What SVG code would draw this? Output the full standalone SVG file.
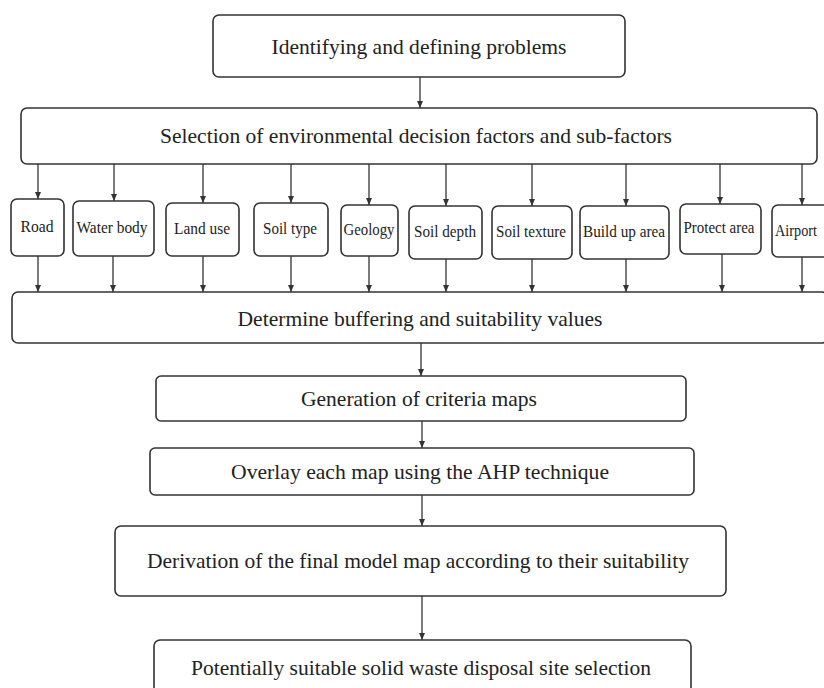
<svg xmlns="http://www.w3.org/2000/svg" width="824" height="688" viewBox="0 0 824 688">
<style>
.box{fill:#fff;stroke:#333;stroke-width:1.6}
.t{font-family:"Liberation Serif","Times New Roman",serif;font-size:21px;fill:#222;text-anchor:middle}
.s{font-family:"Liberation Serif","Times New Roman",serif;font-size:17px;fill:#222;text-anchor:middle}
.c{stroke:#333;stroke-width:1.3;fill:none;marker-end:url(#ah)}
</style>
<defs>
<marker id="ah" markerUnits="userSpaceOnUse" markerWidth="7" markerHeight="7" refX="7" refY="3.5" orient="auto">
<path d="M0,0.5 L7,3.5 L0,6.5 z" fill="#333"/>
</marker>
</defs>
<rect width="824" height="688" fill="#fff"/>
<g id="connectors">
<line class="c" x1="420" y1="77" x2="420" y2="108"/>
<line class="c" x1="38" y1="164" x2="38" y2="199"/>
<line class="c" x1="114" y1="164" x2="114" y2="201"/>
<line class="c" x1="203" y1="164" x2="203" y2="203"/>
<line class="c" x1="291" y1="164" x2="291" y2="203"/>
<line class="c" x1="369" y1="164" x2="369" y2="205"/>
<line class="c" x1="446" y1="164" x2="446" y2="206"/>
<line class="c" x1="532" y1="164" x2="532" y2="206"/>
<line class="c" x1="626" y1="164" x2="626" y2="206"/>
<line class="c" x1="720" y1="164" x2="720" y2="204"/>
<line class="c" x1="802" y1="164" x2="802" y2="205"/>
<line class="c" x1="38" y1="256" x2="38" y2="292"/>
<line class="c" x1="113" y1="256" x2="113" y2="292"/>
<line class="c" x1="203" y1="256" x2="203" y2="292"/>
<line class="c" x1="291" y1="256" x2="291" y2="292"/>
<line class="c" x1="369" y1="256" x2="369" y2="292"/>
<line class="c" x1="446" y1="259" x2="446" y2="292"/>
<line class="c" x1="532" y1="259" x2="532" y2="292"/>
<line class="c" x1="626" y1="259" x2="626" y2="292"/>
<line class="c" x1="722" y1="254" x2="722" y2="292"/>
<line class="c" x1="802" y1="257" x2="802" y2="292"/>
<line class="c" x1="421" y1="343" x2="421" y2="376"/>
<line class="c" x1="422" y1="421" x2="422" y2="448"/>
<line class="c" x1="422" y1="495" x2="422" y2="526"/>
<line class="c" x1="422" y1="596" x2="422" y2="640"/>
</g>
<g id="n_identify"><rect class="box" x="213" y="15" width="412" height="62" rx="6"/><text class="t" x="419" y="54" textLength="295" lengthAdjust="spacingAndGlyphs">Identifying and defining problems</text></g>
<g id="n_selection"><rect class="box" x="21" y="108" width="796" height="56" rx="6"/><text class="t" x="416" y="143" textLength="512" lengthAdjust="spacingAndGlyphs">Selection of environmental decision factors and sub-factors</text></g>
<g id="n_road"><rect class="box" x="11" y="199" width="53" height="57" rx="6"/><text class="s" x="37" y="232" textLength="33" lengthAdjust="spacingAndGlyphs">Road</text></g>
<g id="n_water"><rect class="box" x="73" y="201" width="81" height="55" rx="6"/><text class="s" x="112" y="233" textLength="71" lengthAdjust="spacingAndGlyphs">Water body</text></g>
<g id="n_landuse"><rect class="box" x="166" y="203" width="73" height="53" rx="6"/><text class="s" x="202" y="234" textLength="56" lengthAdjust="spacingAndGlyphs">Land use</text></g>
<g id="n_soiltype"><rect class="box" x="254" y="203" width="74" height="53" rx="6"/><text class="s" x="290" y="234" textLength="54" lengthAdjust="spacingAndGlyphs">Soil type</text></g>
<g id="n_geology"><rect class="box" x="341" y="205" width="57" height="51" rx="6"/><text class="s" x="369" y="235" textLength="51" lengthAdjust="spacingAndGlyphs">Geology</text></g>
<g id="n_soildepth"><rect class="box" x="409" y="206" width="73" height="53" rx="6"/><text class="s" x="445" y="237" textLength="62" lengthAdjust="spacingAndGlyphs">Soil depth</text></g>
<g id="n_soiltexture"><rect class="box" x="492" y="206" width="80" height="53" rx="6"/><text class="s" x="531" y="237" textLength="70" lengthAdjust="spacingAndGlyphs">Soil texture</text></g>
<g id="n_buildup"><rect class="box" x="580" y="206" width="89" height="53" rx="6"/><text class="s" x="624" y="237" textLength="82" lengthAdjust="spacingAndGlyphs">Build up area</text></g>
<g id="n_protect"><rect class="box" x="680" y="204" width="81" height="50" rx="6"/><text class="s" x="719" y="233" textLength="71" lengthAdjust="spacingAndGlyphs">Protect area</text></g>
<g id="n_airport"><rect class="box" x="772" y="205" width="60" height="52" rx="6"/><text class="s" x="775" y="236" style="text-anchor:start" textLength="42" lengthAdjust="spacingAndGlyphs">Airport</text></g>
<g id="n_determine"><rect class="box" x="12" y="292" width="816" height="51" rx="6"/><text class="t" x="420" y="326" textLength="365" lengthAdjust="spacingAndGlyphs">Determine buffering and suitability values</text></g>
<g id="n_generation"><rect class="box" x="156" y="376" width="530" height="45" rx="5"/><text class="t" x="419" y="406" textLength="236" lengthAdjust="spacingAndGlyphs">Generation of criteria maps</text></g>
<g id="n_overlay"><rect class="box" x="150" y="448" width="544" height="47" rx="5"/><text class="t" x="420" y="479" textLength="378" lengthAdjust="spacingAndGlyphs">Overlay each map using the AHP technique</text></g>
<g id="n_derivation"><rect class="box" x="115" y="526" width="611" height="70" rx="6"/><text class="t" x="418" y="568" textLength="542" lengthAdjust="spacingAndGlyphs">Derivation of the final model map according to their suitability</text></g>
<g id="n_potential"><rect class="box" x="154" y="640" width="537" height="60" rx="6"/><text class="t" x="421" y="675" textLength="460" lengthAdjust="spacingAndGlyphs">Potentially suitable solid waste disposal site selection</text></g>
</svg>
